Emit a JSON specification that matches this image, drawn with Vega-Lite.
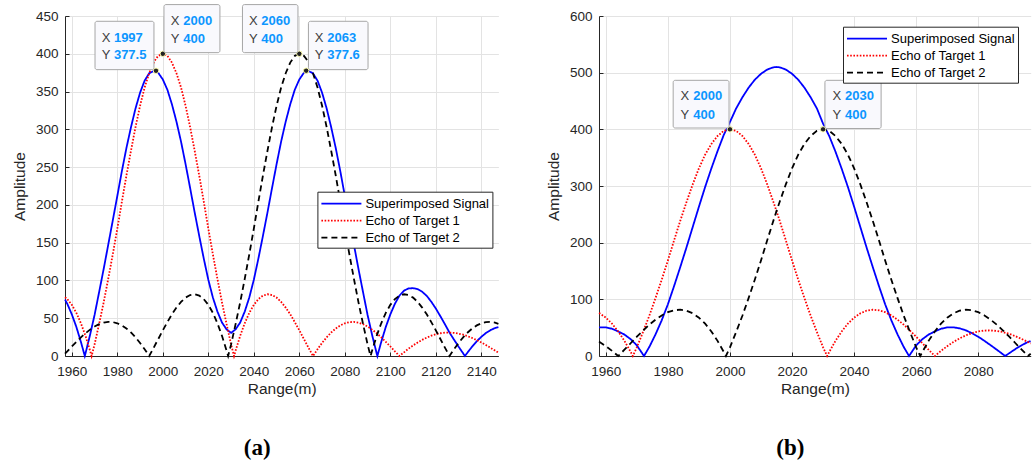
{
  "$schema": "https://vega.github.io/schema/vega-lite/v6.json",
  "background": "white",
  "padding": {"left": 12, "top": 4, "right": 0, "bottom": 0},
  "spacing": 44,
  "resolve": {"legend": {"color": "independent", "strokeDash": "independent"}},
  "config": {
    "view": {"stroke": null},
    "axis": {
      "labelFont": "Liberation Sans", "labelFontSize": 13.5, "labelColor": "#262626", "labelOverlap": false,
      "titleFont": "Liberation Sans", "titleFontSize": 15.5, "titleFontWeight": "normal", "titleColor": "#262626",
      "domainColor": "#262626", "domainWidth": 1, "tickColor": "#262626", "tickSize": -4,
      "gridColor": "#e3e3e3", "gridOpacity": 1, "grid": true
    },
    "axisX": {"labelPadding": 12, "titlePadding": 4, "labelFlush": false},
    "axisY": {"labelPadding": 11, "titlePadding": 8},
    "legend": {
      "labelFont": "Liberation Sans", "labelFontSize": 13, "labelColor": "black",
      "symbolType": "M-1,0H4", "symbolSize": 256, "symbolStrokeWidth": 1.8,
      "strokeColor": "#262626", "fillColor": "white", "padding": 3, "labelOffset": 27, "rowPadding": 1
    },
    "title": {"font": "Liberation Serif", "fontSize": 23, "fontWeight": "bold", "color": "black"}
  },
  "datasets": {
    "A": [
      {"x":1957,"s1":74.7,"s2":77.8,"s3":3.1},
      {"x":1958,"s1":69.1,"s2":75.3,"s3":6.2},
      {"x":1960,"s1":55.1,"s2":67.7,"s3":12.6},
      {"x":1962,"s1":38.4,"s2":57.1,"s3":18.7},
      {"x":1964,"s1":18.6,"s2":43.3,"s3":24.7},
      {"x":1965.7,"s1":0},
      {"x":1966,"s1":3.4,"s2":26.7,"s3":30.1},
      {"x":1968,"s1":27.7,"s2":7.2,"s3":34.9},
      {"x":1968.7,"s2":0},
      {"x":1970,"s1":54.3,"s2":15.3,"s3":39.0},
      {"x":1972,"s1":84.6,"s2":42.5,"s3":42.1},
      {"x":1974,"s1":115.2,"s2":71.0,"s3":44.2},
      {"x":1976,"s1":147.2,"s2":102.1,"s3":45.1},
      {"x":1978,"s1":179.4,"s2":134.5,"s3":44.9},
      {"x":1980,"s1":211.9,"s2":168.6,"s3":43.3},
      {"x":1982,"s1":244.7,"s2":204.2,"s3":40.5},
      {"x":1984,"s1":275.3,"s2":238.9,"s3":36.4},
      {"x":1986,"s1":302.8,"s2":271.7,"s3":31.1},
      {"x":1988,"s1":327.7,"s2":303.0,"s3":24.7},
      {"x":1990,"s1":348.5,"s2":331.2,"s3":17.3},
      {"x":1992,"s1":364.4,"s2":355.4,"s3":9.0},
      {"x":1994,"s1":374.2,"s2":374.2,"s3":0},
      {"x":1996,"s1":377.2,"s2":388.3,"s3":11.1},
      {"x":1997,"s1":377.5,"s2":393.5,"s3":16.9},
      {"x":1998,"s1":374.8,"s2":397.3,"s3":22.5},
      {"x":2000,"s1":366.0,"s2":400,"s3":34.0},
      {"x":2002,"s1":352.4,"s2":397.3,"s3":44.9},
      {"x":2004,"s1":333.1,"s2":388.3,"s3":55.2},
      {"x":2006,"s1":310.1,"s2":374.2,"s3":64.1},
      {"x":2008,"s1":283.8,"s2":355.4,"s3":71.6},
      {"x":2010,"s1":253.9,"s2":331.2,"s3":77.3},
      {"x":2012,"s1":222.3,"s2":303.0,"s3":80.7},
      {"x":2014,"s1":190.0,"s2":271.7,"s3":81.7},
      {"x":2016,"s1":159.0,"s2":238.9,"s3":79.9},
      {"x":2018,"s1":128.9,"s2":204.2,"s3":75.3},
      {"x":2020,"s1":100.9,"s2":168.6,"s3":67.7},
      {"x":2022,"s1":77.4,"s2":134.5,"s3":57.1},
      {"x":2024,"s1":58.8,"s2":102.1,"s3":43.3},
      {"x":2026,"s1":44.3,"s2":71.0,"s3":26.7},
      {"x":2028,"s1":35.3,"s2":42.5,"s3":7.2},
      {"x":2028.7,"s3":0},
      {"x":2030,"s1":30.6,"s2":15.3,"s3":15.3},
      {"x":2031.3,"s2":0},
      {"x":2032,"s1":35.3,"s2":7.2,"s3":42.5},
      {"x":2034,"s1":44.3,"s2":26.7,"s3":71.0},
      {"x":2036,"s1":58.8,"s2":43.3,"s3":102.1},
      {"x":2038,"s1":77.4,"s2":57.1,"s3":134.5},
      {"x":2040,"s1":100.9,"s2":67.7,"s3":168.6},
      {"x":2042,"s1":128.9,"s2":75.3,"s3":204.2},
      {"x":2044,"s1":159.0,"s2":79.9,"s3":238.9},
      {"x":2046,"s1":190.0,"s2":81.7,"s3":271.7},
      {"x":2048,"s1":222.3,"s2":80.7,"s3":303.0},
      {"x":2050,"s1":253.9,"s2":77.3,"s3":331.2},
      {"x":2052,"s1":283.8,"s2":71.6,"s3":355.4},
      {"x":2054,"s1":310.1,"s2":64.1,"s3":374.2},
      {"x":2056,"s1":333.1,"s2":55.2,"s3":388.3},
      {"x":2058,"s1":352.4,"s2":44.9,"s3":397.3},
      {"x":2060,"s1":366.0,"s2":34.0,"s3":400},
      {"x":2062,"s1":374.8,"s2":22.5,"s3":397.3},
      {"x":2063,"s1":377.6,"s2":16.9,"s3":393.5},
      {"x":2064,"s1":377.2,"s2":11.1,"s3":388.3},
      {"x":2066,"s1":374.2,"s2":0,"s3":374.2},
      {"x":2068,"s1":364.4,"s2":9.0,"s3":355.4},
      {"x":2070,"s1":348.5,"s2":17.3,"s3":331.2},
      {"x":2072,"s1":327.7,"s2":24.7,"s3":303.0},
      {"x":2074,"s1":302.8,"s2":31.1,"s3":271.7},
      {"x":2076,"s1":275.3,"s2":36.4,"s3":238.9},
      {"x":2078,"s1":244.7,"s2":40.5,"s3":204.2},
      {"x":2080,"s1":211.9,"s2":43.3,"s3":168.6},
      {"x":2082,"s1":179.4,"s2":44.9,"s3":134.5},
      {"x":2084,"s1":147.2,"s2":45.1,"s3":102.1},
      {"x":2086,"s1":115.2,"s2":44.2,"s3":71.0},
      {"x":2088,"s1":84.6,"s2":42.1,"s3":42.5},
      {"x":2090,"s1":54.3,"s2":39.0,"s3":15.3},
      {"x":2091.3,"s3":0},
      {"x":2092,"s1":27.7,"s2":34.9,"s3":7.2},
      {"x":2094,"s1":3.4,"s2":30.1,"s3":26.7},
      {"x":2094.3,"s1":0},
      {"x":2096,"s1":18.6,"s2":24.7,"s3":43.3},
      {"x":2098,"s1":38.4,"s2":18.7,"s3":57.1},
      {"x":2100,"s1":55.1,"s2":12.6,"s3":67.7},
      {"x":2102,"s1":69.1,"s2":6.2,"s3":75.3},
      {"x":2104,"s1":79.9,"s2":0,"s3":79.9},
      {"x":2106,"s1":86.5,"s2":4.8,"s3":81.7},
      {"x":2108,"s1":89.4,"s2":9.7,"s3":80.7},
      {"x":2110,"s1":89.8,"s2":14.0,"s3":77.3},
      {"x":2112,"s1":88.5,"s2":17.9,"s3":71.6},
      {"x":2114,"s1":85.0,"s2":21.4,"s3":64.1},
      {"x":2116,"s1":79.6,"s2":24.4,"s3":55.2},
      {"x":2118,"s1":71.8,"s2":26.9,"s3":44.9},
      {"x":2120,"s1":62.8,"s2":28.8,"s3":34.0},
      {"x":2122,"s1":52.6,"s2":30.1,"s3":22.5},
      {"x":2124,"s1":42.0,"s2":30.9,"s3":11.1},
      {"x":2126,"s1":31.0,"s2":31.0,"s3":0},
      {"x":2128,"s1":21.6,"s2":30.6,"s3":9.0},
      {"x":2130,"s1":12.3,"s2":29.6,"s3":17.3},
      {"x":2132,"s1":3.5,"s2":28.2,"s3":24.7},
      {"x":2132.8,"s1":0},
      {"x":2134,"s1":4.9,"s2":26.2,"s3":31.1},
      {"x":2136,"s1":12.6,"s2":23.8,"s3":36.4},
      {"x":2138,"s1":19.5,"s2":21.0,"s3":40.5},
      {"x":2140,"s1":25.4,"s2":17.9,"s3":43.3},
      {"x":2142,"s1":30.4,"s2":14.5,"s3":44.9},
      {"x":2144,"s1":34.2,"s2":10.9,"s3":45.1},
      {"x":2146,"s1":37.0,"s2":7.2,"s3":44.2},
      {"x":2147.5,"s1":38.2,"s2":4.4,"s3":42.6}
    ],
    "B": [
      {"x":1957.8,"s1":50.5,"s2":75.8,"s3":25.3},
      {"x":1958,"s1":50.6,"s2":75.3,"s3":24.7},
      {"x":1960,"s1":50.4,"s2":67.7,"s3":17.3},
      {"x":1962,"s1":48.1,"s2":57.1,"s3":9.0},
      {"x":1964,"s1":43.3,"s2":43.3,"s3":0},
      {"x":1966,"s1":37.8,"s2":26.7,"s3":11.1},
      {"x":1968,"s1":29.7,"s2":7.2,"s3":22.5},
      {"x":1968.7,"s2":0},
      {"x":1970,"s1":18.7,"s2":15.3,"s3":34.0},
      {"x":1972,"s1":2.4,"s2":42.5,"s3":44.9},
      {"x":1972.3,"s1":0},
      {"x":1974,"s1":15.8,"s2":71.0,"s3":55.2},
      {"x":1976,"s1":38.0,"s2":102.1,"s3":64.1},
      {"x":1978,"s1":62.9,"s2":134.5,"s3":71.6},
      {"x":1980,"s1":91.3,"s2":168.6,"s3":77.3},
      {"x":1982,"s1":123.5,"s2":204.2,"s3":80.7},
      {"x":1984,"s1":157.2,"s2":238.9,"s3":81.7},
      {"x":1986,"s1":191.8,"s2":271.7,"s3":79.9},
      {"x":1988,"s1":227.7,"s2":303.0,"s3":75.3},
      {"x":1990,"s1":263.5,"s2":331.2,"s3":67.7},
      {"x":1992,"s1":298.3,"s2":355.4,"s3":57.1},
      {"x":1994,"s1":330.9,"s2":374.2,"s3":43.3},
      {"x":1996,"s1":361.6,"s2":388.3,"s3":26.7},
      {"x":1998,"s1":390.1,"s2":397.3,"s3":7.2},
      {"x":1998.7,"s3":0},
      {"x":2000,"s1":413.0,"s2":400,"s3":15.3},
      {"x":2002,"s1":437.0,"s2":397.3,"s3":42.5},
      {"x":2004,"s1":456.5,"s2":388.3,"s3":71.0},
      {"x":2006,"s1":473.5,"s2":374.2,"s3":102.1},
      {"x":2008,"s1":487.5,"s2":355.4,"s3":134.5},
      {"x":2010,"s1":498.0,"s2":331.2,"s3":168.6},
      {"x":2012,"s1":505.5,"s2":303.0,"s3":204.2},
      {"x":2014,"s1":509.5,"s2":271.7,"s3":238.9},
      {"x":2015,"s1":510.0,"s2":255.7,"s3":255.7},
      {"x":2016,"s1":509.5,"s2":238.9,"s3":271.7},
      {"x":2018,"s1":505.5,"s2":204.2,"s3":303.0},
      {"x":2020,"s1":498.0,"s2":168.6,"s3":331.2},
      {"x":2022,"s1":487.5,"s2":134.5,"s3":355.4},
      {"x":2024,"s1":473.5,"s2":102.1,"s3":374.2},
      {"x":2026,"s1":456.5,"s2":71.0,"s3":388.3},
      {"x":2028,"s1":437.0,"s2":42.5,"s3":397.3},
      {"x":2030,"s1":410.0,"s2":15.3,"s3":400},
      {"x":2031.3,"s2":0},
      {"x":2032,"s1":388.0,"s2":7.2,"s3":397.3},
      {"x":2034,"s1":360.6,"s2":26.7,"s3":388.3},
      {"x":2036,"s1":330.4,"s2":43.3,"s3":374.2},
      {"x":2038,"s1":298.3,"s2":57.1,"s3":355.4},
      {"x":2040,"s1":263.5,"s2":67.7,"s3":331.2},
      {"x":2042,"s1":227.7,"s2":75.3,"s3":303.0},
      {"x":2044,"s1":191.8,"s2":79.9,"s3":271.7},
      {"x":2046,"s1":157.2,"s2":81.7,"s3":238.9},
      {"x":2048,"s1":123.5,"s2":80.7,"s3":204.2},
      {"x":2050,"s1":91.3,"s2":77.3,"s3":168.6},
      {"x":2052,"s1":62.9,"s2":71.6,"s3":134.5},
      {"x":2054,"s1":38.0,"s2":64.1,"s3":102.1},
      {"x":2056,"s1":15.8,"s2":55.2,"s3":71.0},
      {"x":2057.7,"s1":0},
      {"x":2058,"s1":2.4,"s2":44.9,"s3":42.5},
      {"x":2060,"s1":18.7,"s2":34.0,"s3":15.3},
      {"x":2061.3,"s3":0},
      {"x":2062,"s1":29.7,"s2":22.5,"s3":7.2},
      {"x":2064,"s1":37.8,"s2":11.1,"s3":26.7},
      {"x":2066,"s1":43.3,"s2":0,"s3":43.3},
      {"x":2068,"s1":48.1,"s2":9.0,"s3":57.1},
      {"x":2070,"s1":50.4,"s2":17.3,"s3":67.7},
      {"x":2072,"s1":50.6,"s2":24.7,"s3":75.3},
      {"x":2074,"s1":48.8,"s2":31.1,"s3":79.9},
      {"x":2076,"s1":45.3,"s2":36.4,"s3":81.7},
      {"x":2078,"s1":40.2,"s2":40.5,"s3":80.7},
      {"x":2080,"s1":34.0,"s2":43.3,"s3":77.3},
      {"x":2082,"s1":26.7,"s2":44.9,"s3":71.6},
      {"x":2084,"s1":19.0,"s2":45.1,"s3":64.1},
      {"x":2086,"s1":11.0,"s2":44.2,"s3":55.2},
      {"x":2088,"s1":2.8,"s2":42.1,"s3":44.9},
      {"x":2088.7,"s1":0},
      {"x":2090,"s1":5.0,"s2":39.0,"s3":34.0},
      {"x":2092,"s1":12.4,"s2":34.9,"s3":22.5},
      {"x":2094,"s1":19.0,"s2":30.1,"s3":11.1},
      {"x":2096,"s1":24.7,"s2":24.7,"s3":0},
      {"x":2096.9,"s1":26.0,"s2":22.0,"s3":4.0}
    ],
    "TA": [
      {"x1":1970.2,"x2":1996.1,"y1":443.0,"y2":379.0,"lx":1973.1,"vx":1978.5,"ly1":421.4,"ly2":398.0,"xv":"1997","yv":"377.5"},
      {"x1":2000.5,"x2":2025.1,"y1":465.1,"y2":401.5,"lx":2003.5,"vx":2009.0,"ly1":443.4,"ly2":420.1,"xv":"2000","yv":"400"},
      {"x1":2035.0,"x2":2059.4,"y1":465.1,"y2":401.5,"lx":2037.9,"vx":2043.3,"ly1":443.4,"ly2":420.1,"xv":"2060","yv":"400"},
      {"x1":2064.0,"x2":2090.2,"y1":443.0,"y2":379.0,"lx":2066.8,"vx":2072.3,"ly1":421.4,"ly2":398.0,"xv":"2063","yv":"377.6"}
    ],
    "TB": [
      {"x1":1981.7,"x2":1999.7,"y1":486.5,"y2":402.3,"lx":1984.1,"vx":1988.2,"ly1":458.8,"ly2":426.0,"xv":"2000","yv":"400"},
      {"x1":2030.6,"x2":2048.7,"y1":486.5,"y2":401.4,"lx":2033.0,"vx":2037.1,"ly1":458.8,"ly2":426.0,"xv":"2030","yv":"400"}
    ],
    "PA": [
      {"x":1997,"y":377.5},{"x":2000,"y":400},{"x":2060,"y":400},{"x":2063,"y":377.6}
    ],
    "PB": [
      {"x":2000,"y":400},{"x":2030,"y":400}
    ]
  },
  "hconcat": [
    {
      "width": 433.4, "height": 340,
      "title": {"text": "(a)", "orient": "bottom", "anchor": "middle", "frame": "bounds", "offset": 40},
      "layer": [
        {
          "data": {"name": "A"},
          "transform": [{"fold": ["s1","s2","s3"], "as": ["s","y"]}, {"filter": "isValid(datum.y)"}],
          "mark": {"type": "line", "strokeWidth": 1.8, "strokeCap": "butt"},
          "encoding": {
            "x": {"field": "x", "type": "quantitative", "title": "Range(m)",
                  "scale": {"domain": [1957, 2147.5], "nice": false, "zero": false},
                  "axis": {"values": [1960,1980,2000,2020,2040,2060,2080,2100,2120,2140], "format": "d"}},
            "y": {"field": "y", "type": "quantitative", "title": "Amplitude",
                  "scale": {"domain": [0, 450], "nice": false},
                  "axis": {"values": [0,50,100,150,200,250,300,350,400,450]}},
            "color": {"field": "s", "type": "nominal",
                      "scale": {"domain": ["s1","s2","s3"], "range": ["#0000ff","#ff0000","#000000"]},
                      "legend": {"title": null, "orient": "none", "legendX": 252.4, "legendY": 175.7,
                                 "labelExpr": "datum.label == 's1' ? 'Superimposed Signal' : datum.label == 's2' ? 'Echo of Target 1' : 'Echo of Target 2'"}},
            "strokeDash": {"field": "s", "type": "nominal",
                           "scale": {"domain": ["s1","s2","s3"], "range": [[1,0],[1.6,1.6],[6,4]]},
                           "legend": {"title": null, "orient": "none", "legendX": 252.4, "legendY": 175.7,
                                      "labelExpr": "datum.label == 's1' ? 'Superimposed Signal' : datum.label == 's2' ? 'Echo of Target 1' : 'Echo of Target 2'"}}
          }
        },
        {
          "data": {"name": "PA"},
          "mark": {"type": "point", "filled": true, "fill": "#222222", "stroke": "#ffffb0", "strokeWidth": 1, "size": 30, "opacity": 1},
          "encoding": {
            "x": {"field": "x", "type": "quantitative", "title": "Range(m)", "axis": {"values": [1960,1980,2000,2020,2040,2060,2080,2100,2120,2140], "format": "d"}},
            "y": {"field": "y", "type": "quantitative", "title": "Amplitude", "axis": {"values": [0,50,100,150,200,250,300,350,400,450]}}
          }
        },
        {
          "data": {"name": "TA"},
          "mark": {"type": "rect", "fill": "#f9f9fd", "stroke": "#a6a6a6", "strokeWidth": 1, "cornerRadius": 2},
          "encoding": {
            "x": {"field": "x1", "type": "quantitative", "title": "Range(m)", "axis": {"values": [1960,1980,2000,2020,2040,2060,2080,2100,2120,2140], "format": "d"}},
            "x2": {"field": "x2"},
            "y": {"field": "y1", "type": "quantitative", "title": "Amplitude", "axis": {"values": [0,50,100,150,200,250,300,350,400,450]}},
            "y2": {"field": "y2"}
          }
        },
        {
          "data": {"name": "TA"},
          "mark": {"type": "text", "align": "left", "baseline": "middle", "font": "Liberation Sans", "fontSize": 13, "color": "#404040", "text": "X"},
          "encoding": {
            "x": {"field": "lx", "type": "quantitative", "title": "Range(m)", "axis": {"values": [1960,1980,2000,2020,2040,2060,2080,2100,2120,2140], "format": "d"}},
            "y": {"field": "ly1", "type": "quantitative", "title": "Amplitude", "axis": {"values": [0,50,100,150,200,250,300,350,400,450]}}
          }
        },
        {
          "data": {"name": "TA"},
          "mark": {"type": "text", "align": "left", "baseline": "middle", "font": "Liberation Sans", "fontSize": 13, "color": "#404040", "text": "Y"},
          "encoding": {
            "x": {"field": "lx", "type": "quantitative", "title": "Range(m)", "axis": {"values": [1960,1980,2000,2020,2040,2060,2080,2100,2120,2140], "format": "d"}},
            "y": {"field": "ly2", "type": "quantitative", "title": "Amplitude", "axis": {"values": [0,50,100,150,200,250,300,350,400,450]}}
          }
        },
        {
          "data": {"name": "TA"},
          "mark": {"type": "text", "align": "left", "baseline": "middle", "font": "Liberation Sans", "fontSize": 13, "fontWeight": "bold", "color": "#0c96ff"},
          "encoding": {
            "x": {"field": "vx", "type": "quantitative", "title": "Range(m)", "axis": {"values": [1960,1980,2000,2020,2040,2060,2080,2100,2120,2140], "format": "d"}},
            "y": {"field": "ly1", "type": "quantitative", "title": "Amplitude", "axis": {"values": [0,50,100,150,200,250,300,350,400,450]}},
            "text": {"field": "xv"}
          }
        },
        {
          "data": {"name": "TA"},
          "mark": {"type": "text", "align": "left", "baseline": "middle", "font": "Liberation Sans", "fontSize": 13, "fontWeight": "bold", "color": "#0c96ff"},
          "encoding": {
            "x": {"field": "vx", "type": "quantitative", "title": "Range(m)", "axis": {"values": [1960,1980,2000,2020,2040,2060,2080,2100,2120,2140], "format": "d"}},
            "y": {"field": "ly2", "type": "quantitative", "title": "Amplitude", "axis": {"values": [0,50,100,150,200,250,300,350,400,450]}},
            "text": {"field": "yv"}
          }
        }
      ]
    },
    {
      "width": 431.7, "height": 340,
      "title": {"text": "(b)", "orient": "bottom", "anchor": "middle", "frame": "bounds", "offset": 40},
      "layer": [
        {
          "data": {"name": "B"},
          "transform": [{"fold": ["s1","s2","s3"], "as": ["s","y"]}, {"filter": "isValid(datum.y)"}],
          "mark": {"type": "line", "strokeWidth": 1.8, "strokeCap": "butt"},
          "encoding": {
            "x": {"field": "x", "type": "quantitative", "title": "Range(m)",
                  "scale": {"domain": [1957.8, 2096.9], "nice": false, "zero": false},
                  "axis": {"values": [1960,1980,2000,2020,2040,2060,2080], "format": "d"}},
            "y": {"field": "y", "type": "quantitative", "title": "Amplitude",
                  "scale": {"domain": [0, 600], "nice": false},
                  "axis": {"values": [0,100,200,300,400,500,600]}},
            "color": {"field": "s", "type": "nominal",
                      "scale": {"domain": ["s1","s2","s3"], "range": ["#0000ff","#ff0000","#000000"]},
                      "legend": {"title": null, "orient": "none", "legendX": 244, "legendY": 10.7,
                                 "labelExpr": "datum.label == 's1' ? 'Superimposed Signal' : datum.label == 's2' ? 'Echo of Target 1' : 'Echo of Target 2'"}},
            "strokeDash": {"field": "s", "type": "nominal",
                           "scale": {"domain": ["s1","s2","s3"], "range": [[1,0],[1.6,1.6],[6,4]]},
                           "legend": {"title": null, "orient": "none", "legendX": 244, "legendY": 10.7,
                                      "labelExpr": "datum.label == 's1' ? 'Superimposed Signal' : datum.label == 's2' ? 'Echo of Target 1' : 'Echo of Target 2'"}}
          }
        },
        {
          "data": {"name": "PB"},
          "mark": {"type": "point", "filled": true, "fill": "#222222", "stroke": "#ffffb0", "strokeWidth": 1, "size": 30, "opacity": 1},
          "encoding": {
            "x": {"field": "x", "type": "quantitative", "title": "Range(m)", "axis": {"values": [1960,1980,2000,2020,2040,2060,2080], "format": "d"}},
            "y": {"field": "y", "type": "quantitative", "title": "Amplitude", "axis": {"values": [0,100,200,300,400,500,600]}}
          }
        },
        {
          "data": {"name": "TB"},
          "mark": {"type": "rect", "fill": "#f9f9fd", "stroke": "#a6a6a6", "strokeWidth": 1, "cornerRadius": 2},
          "encoding": {
            "x": {"field": "x1", "type": "quantitative", "title": "Range(m)", "axis": {"values": [1960,1980,2000,2020,2040,2060,2080], "format": "d"}},
            "x2": {"field": "x2"},
            "y": {"field": "y1", "type": "quantitative", "title": "Amplitude", "axis": {"values": [0,100,200,300,400,500,600]}},
            "y2": {"field": "y2"}
          }
        },
        {
          "data": {"name": "TB"},
          "mark": {"type": "text", "align": "left", "baseline": "middle", "font": "Liberation Sans", "fontSize": 13, "color": "#404040", "text": "X"},
          "encoding": {
            "x": {"field": "lx", "type": "quantitative", "title": "Range(m)", "axis": {"values": [1960,1980,2000,2020,2040,2060,2080], "format": "d"}},
            "y": {"field": "ly1", "type": "quantitative", "title": "Amplitude", "axis": {"values": [0,100,200,300,400,500,600]}}
          }
        },
        {
          "data": {"name": "TB"},
          "mark": {"type": "text", "align": "left", "baseline": "middle", "font": "Liberation Sans", "fontSize": 13, "color": "#404040", "text": "Y"},
          "encoding": {
            "x": {"field": "lx", "type": "quantitative", "title": "Range(m)", "axis": {"values": [1960,1980,2000,2020,2040,2060,2080], "format": "d"}},
            "y": {"field": "ly2", "type": "quantitative", "title": "Amplitude", "axis": {"values": [0,100,200,300,400,500,600]}}
          }
        },
        {
          "data": {"name": "TB"},
          "mark": {"type": "text", "align": "left", "baseline": "middle", "font": "Liberation Sans", "fontSize": 13, "fontWeight": "bold", "color": "#0c96ff"},
          "encoding": {
            "x": {"field": "vx", "type": "quantitative", "title": "Range(m)", "axis": {"values": [1960,1980,2000,2020,2040,2060,2080], "format": "d"}},
            "y": {"field": "ly1", "type": "quantitative", "title": "Amplitude", "axis": {"values": [0,100,200,300,400,500,600]}},
            "text": {"field": "xv"}
          }
        },
        {
          "data": {"name": "TB"},
          "mark": {"type": "text", "align": "left", "baseline": "middle", "font": "Liberation Sans", "fontSize": 13, "fontWeight": "bold", "color": "#0c96ff"},
          "encoding": {
            "x": {"field": "vx", "type": "quantitative", "title": "Range(m)", "axis": {"values": [1960,1980,2000,2020,2040,2060,2080], "format": "d"}},
            "y": {"field": "ly2", "type": "quantitative", "title": "Amplitude", "axis": {"values": [0,100,200,300,400,500,600]}},
            "text": {"field": "yv"}
          }
        }
      ]
    }
  ]
}
